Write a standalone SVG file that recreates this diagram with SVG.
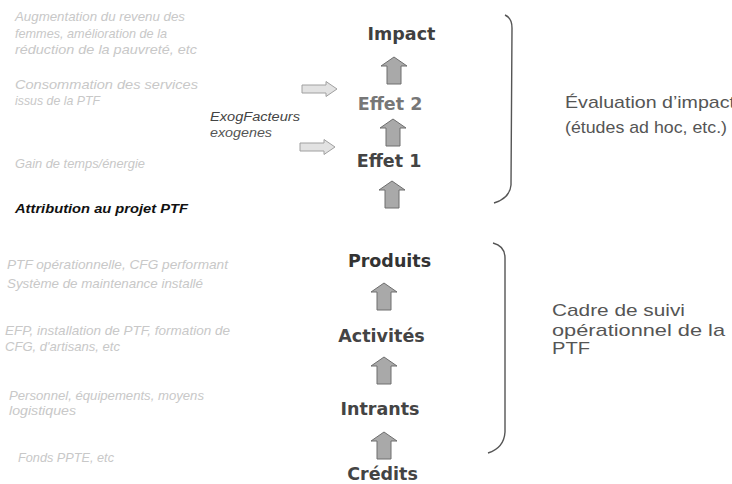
<svg xmlns="http://www.w3.org/2000/svg" width="732" height="484" viewBox="0 0 732 484">
<style>
.lvl{font-family:"DejaVu Sans",Verdana,sans-serif;font-weight:bold;font-size:17.5px;text-anchor:middle}
.side{font-family:"Liberation Sans",Arial,sans-serif;font-size:17px;fill:#555}
.faint{font-family:"Liberation Sans",Arial,sans-serif;font-style:italic;font-size:13px;fill:#c8c8c8}
.up{fill:#a9a9a9;stroke:#6e6e6e;stroke-width:1}
.rt{fill:#e2e2e2;stroke:#a0a0a0;stroke-width:1}
.brace{fill:none;stroke:#555;stroke-width:1.4}
</style>
<defs>
<path id="uparrow" d="M0,0 L13,9 L7,9 L7,27 L-7,27 L-7,9 L-13,9 Z"/>
<path id="rtarrow" d="M0,-4 L24,-4 L24,-7.5 L35,0 L24,7.5 L24,4 L0,4 Z"/>
</defs>
<rect width="732" height="484" fill="#ffffff"/>

<g id="left-notes">
<text class="faint" x="15" y="21" textLength="170" lengthAdjust="spacingAndGlyphs">Augmentation du revenu des</text>
<text class="faint" x="15" y="38" textLength="152" lengthAdjust="spacingAndGlyphs">femmes, amélioration de la</text>
<text class="faint" x="15" y="54" textLength="182" lengthAdjust="spacingAndGlyphs">réduction de la pauvreté, etc</text>
<text class="faint" x="15" y="89" textLength="183" lengthAdjust="spacingAndGlyphs">Consommation des services</text>
<text class="faint" x="15" y="105" textLength="85" lengthAdjust="spacingAndGlyphs">issus de la PTF</text>
<text class="faint" x="15" y="168" textLength="130" lengthAdjust="spacingAndGlyphs">Gain de temps/énergie</text>
<text x="15" y="213" font-family="Liberation Sans,Arial,sans-serif" font-size="13px" font-weight="bold" font-style="italic" fill="#111" textLength="173" lengthAdjust="spacingAndGlyphs">Attribution au projet PTF</text>
<text class="faint" x="7" y="269" textLength="221" lengthAdjust="spacingAndGlyphs">PTF opérationnelle, CFG performant</text>
<text class="faint" x="7" y="288" textLength="196" lengthAdjust="spacingAndGlyphs">Système de maintenance installé</text>
<text class="faint" x="5" y="335" textLength="225" lengthAdjust="spacingAndGlyphs">EFP, installation de PTF, formation de</text>
<text class="faint" x="5" y="351" textLength="115" lengthAdjust="spacingAndGlyphs">CFG, d'artisans, etc</text>
<text class="faint" x="9" y="400" textLength="195" lengthAdjust="spacingAndGlyphs">Personnel, équipements, moyens</text>
<text class="faint" x="9" y="415" textLength="67" lengthAdjust="spacingAndGlyphs">logistiques</text>
<text class="faint" x="18" y="462" textLength="96" lengthAdjust="spacingAndGlyphs">Fonds PPTE, etc</text>
</g>

<g id="exog">
<text x="210" y="121" font-family="Liberation Sans,Arial,sans-serif" font-size="12.5px" font-style="italic" fill="#444" textLength="90" lengthAdjust="spacingAndGlyphs">ExogFacteurs</text>
<text x="210" y="137" font-family="Liberation Sans,Arial,sans-serif" font-size="12.5px" font-style="italic" fill="#555" textLength="62" lengthAdjust="spacingAndGlyphs">exogenes</text>
</g>

<g id="impact"><text class="lvl" x="401.5" y="40" fill="#3f3f3f">Impact</text></g>
<g id="effet2"><text class="lvl" x="390" y="110" fill="#777">Effet 2</text></g>
<g id="effet1"><text class="lvl" x="389" y="167" fill="#444">Effet 1</text></g>
<g id="produits"><text class="lvl" x="389.5" y="267" fill="#333">Produits</text></g>
<g id="activites"><text class="lvl" x="381.5" y="342" fill="#444">Activités</text></g>
<g id="intrants"><text class="lvl" x="380" y="415" fill="#444">Intrants</text></g>
<g id="credits"><text class="lvl" x="382.5" y="480" fill="#444">Crédits</text></g>

<g id="connectors">
<use href="#uparrow" class="up" x="394" y="57"/>
<use href="#uparrow" class="up" x="393" y="119"/>
<use href="#uparrow" class="up" x="392" y="181"/>
<use href="#uparrow" class="up" x="384" y="283"/>
<use href="#uparrow" class="up" x="384" y="357"/>
<use href="#uparrow" class="up" x="384" y="432"/>
<use href="#rtarrow" class="rt" x="302" y="89"/>
<use href="#rtarrow" class="rt" x="300" y="147"/>
</g>

<g id="brace-evaluation">
<path class="brace" d="M505,15 Q512,18 512,28 L511,185 Q510,198 494,203"/>
<text class="side" x="565" y="108" textLength="170" lengthAdjust="spacingAndGlyphs">Évaluation d’impact</text>
<text class="side" x="565" y="133" textLength="162" lengthAdjust="spacingAndGlyphs">(études ad hoc, etc.)</text>
</g>

<g id="brace-suivi">
<path class="brace" d="M493,243 Q505,246 505,258 L505,432 Q504,448 488,453"/>
<text class="side" x="552" y="316" textLength="133" lengthAdjust="spacingAndGlyphs">Cadre de suivi</text>
<text class="side" x="552" y="336" textLength="173" lengthAdjust="spacingAndGlyphs">opérationnel de la</text>
<text class="side" x="552" y="354" fill="#777" textLength="38" lengthAdjust="spacingAndGlyphs">PTF</text>
</g>
</svg>
